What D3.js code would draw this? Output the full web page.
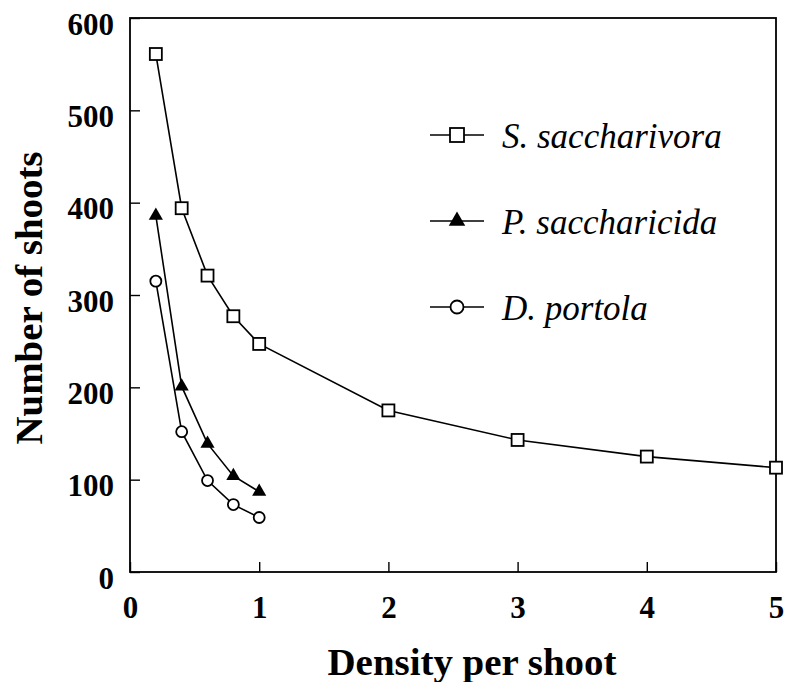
<!DOCTYPE html>
<html>
<head>
<meta charset="utf-8">
<script src="https://cdn.jsdelivr.net/npm/d3@7"></script>
<style>
	body { margin: 0; background: #fff; }
	text { font-family: 'Liberation Serif', 'Times New Roman', serif; fill: #000; }
</style>
</head>
<body>
<script>
// data
var densities = [0.2, 0.4, 0.6, 0.8, 1, 2, 3, 4, 5];
var saccharivora = [561, 394, 321, 277, 247, 175, 143, 125, 113];
var densitiesShort = [0.2, 0.4, 0.6, 0.8, 1];
var saccharicida = [386, 201, 139, 104, 87];
var portola = [315, 152, 99, 73, 59];

var xTicks = [0, 1, 2, 3, 4, 5];
var yTicks = [0, 100, 200, 300, 400, 500, 600];

var series = [
	{ name: 'S. saccharivora', x: densities, y: saccharivora, shape: 'square' },
	{ name: 'P. saccharicida', x: densitiesShort, y: saccharicida, shape: 'triangle' },
	{ name: 'D. portola', x: densitiesShort, y: portola, shape: 'circle' }
];

// set up dimensions
var width = 788,
	height = 682;
var margin = { top: 18, right: 12, bottom: 110, left: 130 };

var svg = d3.select('body')
	.append('svg')
	.attr('width', width)
	.attr('height', height);

var x = d3.scaleLinear()
	.domain([0, 5])
	.range([margin.left, width - margin.right]);

var y = d3.scaleLinear()
	.domain([0, 600])
	.range([height - margin.bottom, margin.top]);

// frame around the plot
svg.append('rect')
	.attr('x', x(0))
	.attr('y', y(600))
	.attr('width', x(5) - x(0))
	.attr('height', y(0) - y(600))
	.attr('fill', 'none')
	.attr('stroke', '#000')
	.attr('stroke-width', 1.8);

// axes, ticks point inward
var xAxis = d3.axisBottom(x)
	.tickValues(xTicks)
	.tickFormat(d3.format('d'))
	.tickSizeInner(-10)
	.tickSizeOuter(0)
	.tickPadding(24);

var yAxis = d3.axisLeft(y)
	.tickValues(yTicks)
	.tickFormat(d3.format('d'))
	.tickSizeInner(-10)
	.tickSizeOuter(0)
	.tickPadding(16);

var gx = svg.append('g')
	.attr('transform', 'translate(0,' + y(0) + ')')
	.call(xAxis);

var gy = svg.append('g')
	.attr('transform', 'translate(' + x(0) + ',0)')
	.call(yAxis);

[gx, gy].forEach(function(g) {
	g.select('.domain').remove();
	g.selectAll('line').attr('stroke', '#000').attr('stroke-width', 1.4);
	g.selectAll('text')
		.style('font-family', "'Liberation Serif', 'Times New Roman', serif")
		.style('font-weight', 'bold')
		.style('font-size', '31px');
});
gy.selectAll('text').attr('dy', '0.52em');

// axis titles
svg.append('text')
	.attr('x', 472)
	.attr('y', 675)
	.attr('text-anchor', 'middle')
	.attr('textLength', 289)
	.attr('lengthAdjust', 'spacingAndGlyphs')
	.style('font-weight', 'bold')
	.style('font-size', '38px')
	.text('Density per shoot');

svg.append('text')
	.attr('transform', 'translate(42,298) rotate(-90)')
	.attr('text-anchor', 'middle')
	.attr('textLength', 293)
	.attr('lengthAdjust', 'spacingAndGlyphs')
	.style('font-weight', 'bold')
	.style('font-size', '38px')
	.text('Number of shoots');

// marker drawing
function drawMarker(g, shape, cx, cy, size) {
	if (shape === 'square') {
		g.append('rect')
			.attr('x', cx - size / 2)
			.attr('y', cy - size / 2)
			.attr('width', size)
			.attr('height', size)
			.attr('fill', '#fff')
			.attr('stroke', '#000')
			.attr('stroke-width', 1.8);
	} else if (shape === 'circle') {
		g.append('circle')
			.attr('cx', cx)
			.attr('cy', cy)
			.attr('r', size / 2)
			.attr('fill', '#fff')
			.attr('stroke', '#000')
			.attr('stroke-width', 1.8);
	} else {
		g.append('path')
			.attr('transform', 'translate(' + cx + ',' + cy + ')')
			.attr('d', d3.symbol(d3.symbolTriangle, size * size * 0.6)())
			.attr('fill', '#000');
	}
}

var line = d3.line()
	.x(function(d) { return x(d[0]); })
	.y(function(d) { return y(d[1]); });

series.forEach(function(s) {
	var pts = s.x.map(function(d, i) { return [d, s.y[i]]; });
	svg.append('path')
		.datum(pts)
		.attr('d', line)
		.attr('fill', 'none')
		.attr('stroke', '#000')
		.attr('stroke-width', 1.6);
	var g = svg.append('g');
	pts.forEach(function(p) {
		drawMarker(g, s.shape, x(p[0]), y(p[1]), s.shape === 'circle' ? 11 : 12);
	});
});

// legend
var legend = svg.append('g')
	.attr('class', 'legend');

series.forEach(function(s, i) {
	var cy = 135 + i * 86;
	legend.append('line')
		.attr('x1', 430)
		.attr('x2', 484)
		.attr('y1', cy)
		.attr('y2', cy)
		.attr('stroke', '#000')
		.attr('stroke-width', 1.5);
	drawMarker(legend, s.shape, 457, cy, s.shape === 'circle' ? 13 : 14);
	legend.append('text')
		.attr('x', 502)
		.attr('y', cy + 13)
		.style('font-style', 'italic')
		.style('font-size', '35px')
		.text(s.name);
});
</script>
</body>
</html>
